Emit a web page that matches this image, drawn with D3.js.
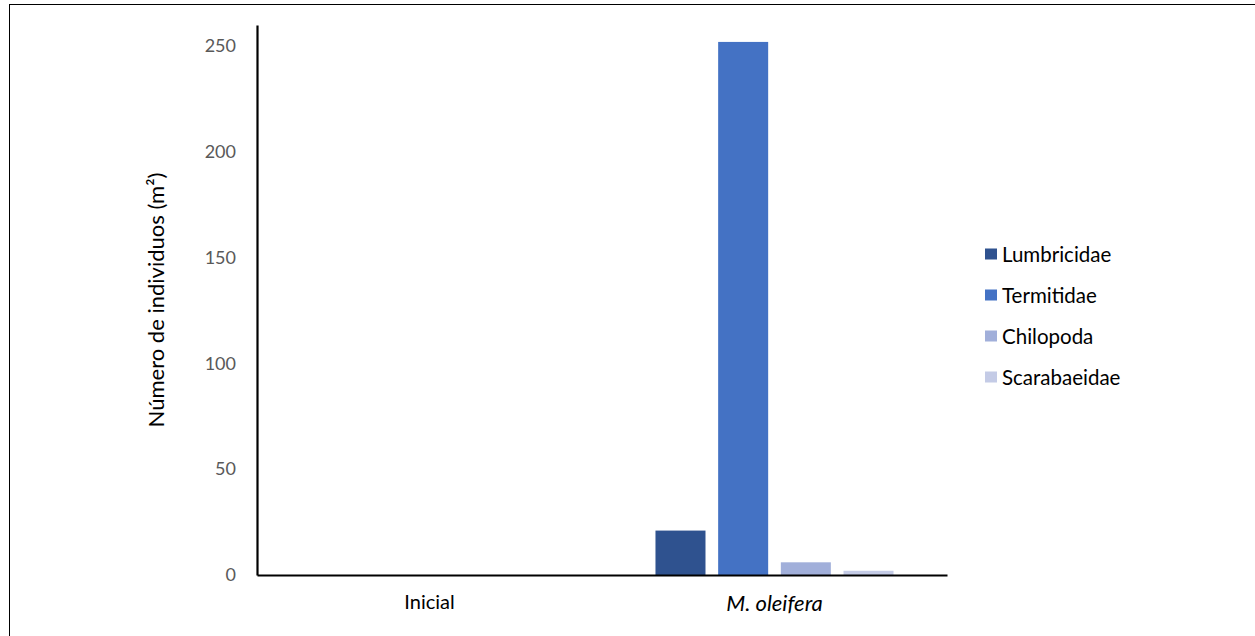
<!DOCTYPE html>
<html>
<head>
<meta charset="utf-8">
<script src="https://cdn.jsdelivr.net/npm/d3@7"></script>
<style>
  html, body { margin: 0; padding: 0; background: #fff; }
  svg { display: block; }
  text { font-family: Lato, "Open Sans", sans-serif; }
</style>
</head>
<body>
<svg id="chart" width="1255" height="636"></svg>
<script>
// ---- data ----
const categories = ["Inicial", "M. oleifera"];
const seriesNames = ["Lumbricidae", "Termitidae", "Chilopoda", "Scarabaeidae"];
const lumbricidae = [0, 21];
const termitidae = [0, 252];
const chilopoda = [0, 6];
const scarabaeidae = [0, 2];
const yTicks = [0, 50, 100, 150, 200, 250];
const yTitle = "Número de individuos (m²)";
const colors = ["#2F528F", "#4472C4", "#A1AFDA", "#C4CBE6"];

const seriesValues = [lumbricidae, termitidae, chilopoda, scarabaeidae];

const svg = d3.select("#chart");

// outer frame
svg.append("rect")
  .attr("x", 9.5).attr("y", 4.5)
  .attr("width", 1300).attr("height", 700)
  .attr("fill", "none").attr("stroke", "#000").attr("stroke-width", 1);

const left = 257, right = 947, baseline = 575;

const x0 = d3.scaleBand().domain(categories).range([left, right])
  .paddingInner(0.31).paddingOuter(0.155);
const x1 = d3.scaleBand().domain(seriesNames).range([0, x0.bandwidth()])
  .paddingInner(0.202).paddingOuter(0);
const y = d3.scaleLinear().domain([0, 260]).range([baseline, 25]);

// bars
const groups = svg.append("g").selectAll("g")
  .data(categories).join("g")
  .attr("transform", d => `translate(${x0(d)},0)`);

groups.selectAll("rect")
  .data((c, ci) => seriesNames.map((s, si) => ({ s, si, v: seriesValues[si][ci] })))
  .join("rect")
  .attr("x", d => x1(d.s))
  .attr("width", x1.bandwidth())
  .attr("y", d => y(d.v))
  .attr("height", d => baseline - y(d.v))
  .attr("fill", d => colors[d.si]);

// y axis
const yAxis = svg.append("g")
  .attr("transform", `translate(${left},0)`)
  .call(d3.axisLeft(y).tickValues(yTicks).tickSize(0).tickPadding(21));
yAxis.select(".domain").attr("stroke", "#000").attr("stroke-width", 2.2);
yAxis.selectAll("text").attr("fill", "#595959").style("font-size", "18px")
  .style("font-family", "Lato, sans-serif");

// x axis
const xAxis = svg.append("g")
  .attr("transform", `translate(0,${baseline})`)
  .call(d3.axisBottom(x0).tickSize(0).tickPadding(20));
xAxis.select(".domain").attr("stroke", "#000").attr("stroke-width", 2.2);
xAxis.selectAll("text").attr("fill", "#000")
  .style("font-size", d => d === "M. oleifera" ? "22px" : "20px")
  .style("font-family", "Lato, sans-serif")
  .style("font-style", d => d === "M. oleifera" ? "italic" : "normal");

// y title
svg.append("text")
  .attr("transform", "translate(155,300) rotate(-90)")
  .attr("text-anchor", "middle")
  .attr("dominant-baseline", "central")
  .style("font-size", "22px")
  .attr("fill", "#000")
  .text(yTitle);

// legend
const legend = svg.append("g").selectAll("g")
  .data(seriesNames).join("g")
  .attr("transform", (d, i) => `translate(985,${254 + i * 41})`);
legend.append("rect")
  .attr("x", 0).attr("y", -5.5).attr("width", 12).attr("height", 11)
  .attr("fill", (d, i) => colors[i]);
legend.append("text")
  .attr("x", 17).attr("y", 0)
  .attr("dominant-baseline", "central")
  .style("font-size", "20.5px")
  .attr("fill", "#000")
  .text(d => d);
</script>
</body>
</html>
